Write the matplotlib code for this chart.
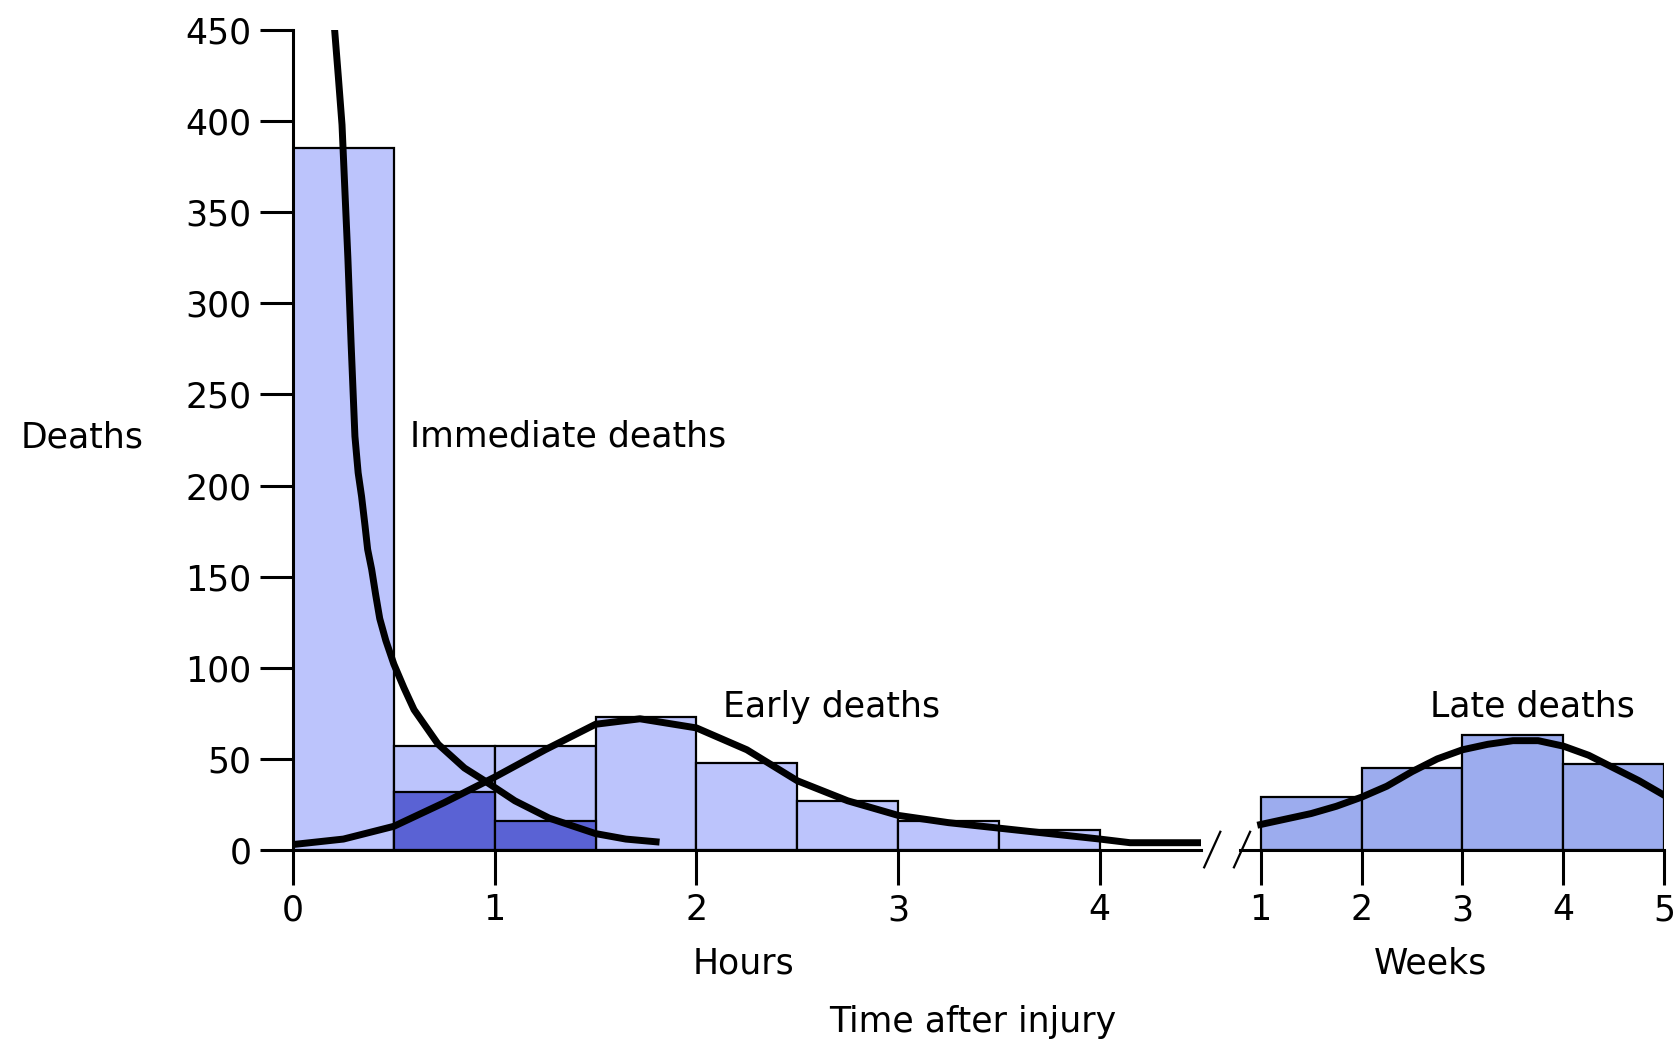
import numpy as np
import matplotlib
matplotlib.use("Agg")
import matplotlib.pyplot as plt

# histogram bars, hours part (left edge of each half-hour bin)
hour_left = [0.0, 0.5, 1.0, 1.5, 2.0, 2.5, 3.0, 3.5]
hour_deaths = [385, 57, 57, 73, 48, 27, 16, 11]
# darker overlay bars (overlap of immediate deaths)
dark_left = [0.5, 1.0]
dark_deaths = [32, 16]
# weeks part
week_left = [1, 2, 3, 4]
week_deaths = [29, 45, 63, 47]

# curves
imm_x = [0.205, 0.225, 0.243, 0.258, 0.272, 0.288, 0.307, 0.323, 0.34, 0.357, 0.37,
         0.39, 0.41, 0.43, 0.46, 0.50, 0.55, 0.60, 0.72, 0.85, 0.95, 1.1, 1.27,
         1.5, 1.65, 1.80]
imm_y = [452, 424, 398, 360, 325, 278, 227, 207, 194, 178, 165,
         154, 140, 127, 115, 102, 89, 77, 58, 45, 38, 27, 17.5,
         9, 6, 4.5]
early_x = [0, 0.25, 0.5, 0.75, 1.0, 1.25, 1.5, 1.72, 2.0, 2.25, 2.5, 2.75,
           3.0, 3.25, 3.5, 3.75, 4.0, 4.15, 4.5]
early_y = [3, 6, 13, 26, 40, 55, 69, 72, 67, 55, 38, 27,
           19, 15, 12, 9, 6, 4, 4]
late_x = [1.0, 1.25, 1.5, 1.75, 2.0, 2.25, 2.5, 2.75, 3.0, 3.25, 3.5, 3.75, 4.0,
          4.25, 4.5, 4.75, 5.0]
late_y = [14, 17, 20, 24, 29, 35, 43, 50, 55, 58, 60, 60, 57, 52, 45, 38, 30]

hour_ticks = [0, 1, 2, 3, 4]
week_ticks = [1, 2, 3, 4, 5]
y_ticks = [0, 50, 100, 150, 200, 250, 300, 350, 400, 450]

light = "#BCC4FC"
dark = "#5A62D4"
weekc = "#9CACEE"
fs = 25

W, H = 1678, 1042
fig = plt.figure(figsize=(W / 100, H / 100), dpi=100)
bot = 1 - 850 / H
hgt = (850 - 30) / H
ax1 = fig.add_axes([293 / W, bot, (1200.7 - 293) / W, hgt])
ax2 = fig.add_axes([1240 / W, bot, (1664.3 - 1240) / W, hgt], sharey=ax1)

ax1.bar(hour_left, hour_deaths, width=0.5, align="edge", color=light,
        edgecolor="black", linewidth=1.6, zorder=2)
ax1.bar(dark_left, dark_deaths, width=0.5, align="edge", color=dark,
        edgecolor="black", linewidth=1.6, zorder=2)
ax2.bar(week_left, week_deaths, width=1, align="edge", color=weekc,
        edgecolor="black", linewidth=1.6, zorder=2)

ax1.plot(imm_x, imm_y, color="black", lw=5, solid_joinstyle="round", zorder=3)
ax1.plot(early_x, early_y, color="black", lw=5, solid_joinstyle="round", zorder=3)
ax2.plot(late_x, late_y, color="black", lw=5, solid_joinstyle="round", zorder=3)

ax1.set_xlim(0, 4.5)
ax2.set_xlim(0.795, 5)
ax1.set_ylim(0, 450)
ax1.set_xticks(hour_ticks)
ax2.set_xticks(week_ticks)
ax1.set_yticks(y_ticks)

for ax in (ax1, ax2):
    ax.set_facecolor("none")
    ax.spines["top"].set_visible(False)
    ax.spines["right"].set_visible(False)
    ax.spines["left"].set_linewidth(2.2)
    ax.spines["bottom"].set_linewidth(2.2)
    ax.tick_params(axis="x", direction="out", length=25, width=2.2, labelsize=fs, pad=6)
    ax.tick_params(axis="y", direction="out", length=24, width=2.2, labelsize=fs, pad=6)
ax2.spines["left"].set_visible(False)
ax2.tick_params(axis="y", left=False, labelleft=False)

# axis break marks
ax2.plot([0.44, 0.60], [-9.5, 10], color="black", lw=1.6, clip_on=False)
ax2.plot([0.735, 0.895], [-9.5, 10], color="black", lw=1.6, clip_on=False)

ax1.text(0.58, 227, "Immediate deaths", fontsize=fs, va="center", ha="left")
ax1.text(2.13, 78.5, "Early deaths", fontsize=fs, va="center", ha="left")
ax2.text(2.68, 78.5, "Late deaths", fontsize=fs, va="center", ha="left")

fig.text(82 / W, 1 - 437 / H, "Deaths", fontsize=fs, ha="center", va="center")
fig.text(743 / W, 1 - 964 / H, "Hours", fontsize=fs, ha="center", va="center")
fig.text(1431 / W, 1 - 964 / H, "Weeks", fontsize=fs, ha="center", va="center")
fig.text(973 / W, 1 - 1022 / H, "Time after injury", fontsize=fs, ha="center", va="center")

fig.savefig("out.png", dpi=100)
